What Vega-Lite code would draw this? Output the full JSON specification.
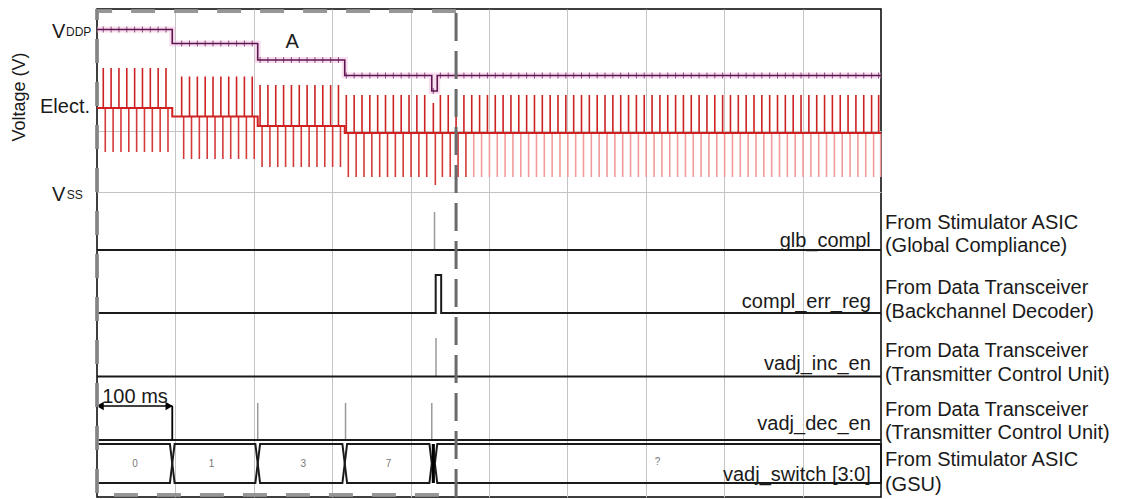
{
  "$schema": "https://vega.github.io/schema/vega-lite/v6.json",
  "width": 784,
  "height": 488,
  "autosize": {"type": "none"},
  "padding": {"left": 97, "top": 9, "right": 244, "bottom": 2},
  "background": "white",
  "config": {
    "view": {"stroke": "black", "strokeWidth": 1.5},
    "text": {"font": "Liberation Sans", "color": "#1a1a1a"}
  },
  "datasets": {
    "pulses": [
      {"t": 8, "c": 389, "hi": 429, "lo": 345, "vd": 467.5},
      {"t": 18, "c": 389, "hi": 429, "lo": 345, "vd": 467.5},
      {"t": 28, "c": 389, "hi": 429, "lo": 345, "vd": 467.5},
      {"t": 38, "c": 389, "hi": 429, "lo": 345, "vd": 467.5},
      {"t": 48, "c": 389, "hi": 429, "lo": 345, "vd": 467.5},
      {"t": 58, "c": 389, "hi": 429, "lo": 345, "vd": 467.5},
      {"t": 68, "c": 389, "hi": 429, "lo": 345, "vd": 467.5},
      {"t": 78, "c": 389, "hi": 429, "lo": 345, "vd": 467.5},
      {"t": 88, "c": 389, "hi": 429, "lo": 345, "vd": 467.5},
      {"t": 108, "c": 380.5, "hi": 420.5, "lo": 338, "vd": 453.5},
      {"t": 118, "c": 380.5, "hi": 420.5, "lo": 338, "vd": 453.5},
      {"t": 128, "c": 380.5, "hi": 420.5, "lo": 338, "vd": 453.5},
      {"t": 138, "c": 380.5, "hi": 420.5, "lo": 338, "vd": 453.5},
      {"t": 148, "c": 380.5, "hi": 420.5, "lo": 338, "vd": 453.5},
      {"t": 158, "c": 380.5, "hi": 420.5, "lo": 338, "vd": 453.5},
      {"t": 168, "c": 380.5, "hi": 420.5, "lo": 338, "vd": 453.5},
      {"t": 178, "c": 380.5, "hi": 420.5, "lo": 338, "vd": 453.5},
      {"t": 188, "c": 380.5, "hi": 420.5, "lo": 338, "vd": 453.5},
      {"t": 198, "c": 380.5, "hi": 420.5, "lo": 338, "vd": 453.5},
      {"t": 208, "c": 371, "hi": 412, "lo": 330, "vd": 437},
      {"t": 218, "c": 371, "hi": 412, "lo": 330, "vd": 437},
      {"t": 228, "c": 371, "hi": 412, "lo": 330, "vd": 437},
      {"t": 238, "c": 371, "hi": 412, "lo": 330, "vd": 437},
      {"t": 248, "c": 371, "hi": 412, "lo": 330, "vd": 437},
      {"t": 258, "c": 371, "hi": 412, "lo": 330, "vd": 437},
      {"t": 268, "c": 371, "hi": 412, "lo": 330, "vd": 437},
      {"t": 278, "c": 371, "hi": 412, "lo": 330, "vd": 437},
      {"t": 288, "c": 371, "hi": 412, "lo": 330, "vd": 437},
      {"t": 298, "c": 371, "hi": 412, "lo": 330, "vd": 437},
      {"t": 308, "c": 371, "hi": 412, "lo": 330, "vd": 437},
      {"t": 318, "c": 364, "hi": 402, "lo": 320, "vd": 421.5},
      {"t": 328, "c": 364, "hi": 402, "lo": 320, "vd": 421.5},
      {"t": 338, "c": 364, "hi": 402, "lo": 320, "vd": 421.5},
      {"t": 348, "c": 364, "hi": 402, "lo": 320, "vd": 421.5},
      {"t": 358, "c": 364, "hi": 402, "lo": 320, "vd": 421.5},
      {"t": 368, "c": 364, "hi": 402, "lo": 320, "vd": 421.5},
      {"t": 378, "c": 364, "hi": 402, "lo": 320, "vd": 421.5},
      {"t": 388, "c": 364, "hi": 402, "lo": 320, "vd": 421.5},
      {"t": 398, "c": 364, "hi": 402, "lo": 320, "vd": 421.5},
      {"t": 408, "c": 364, "hi": 402, "lo": 320, "vd": 421.5},
      {"t": 418, "c": 364, "hi": 402, "lo": 320, "vd": 421.5},
      {"t": 429, "c": 364, "hi": 394, "lo": 312, "vd": 406},
      {"t": 438, "c": 364, "hi": 402, "lo": 320, "vd": 421.5},
      {"t": 448, "c": 364, "hi": 402, "lo": 320, "vd": 421.5},
      {"t": 458, "c": 364, "hi": 402, "lo": 320, "vd": 421.5},
      {"t": 468, "c": 364, "hi": 402, "lo": 320, "vd": 421.5},
      {"t": 478, "c": 364, "hi": 402, "lo": 320, "vd": 421.5},
      {"t": 488, "c": 364, "hi": 402, "lo": 320, "vd": 421.5},
      {"t": 498, "c": 364, "hi": 402, "lo": 320, "vd": 421.5},
      {"t": 508, "c": 364, "hi": 402, "lo": 320, "vd": 421.5},
      {"t": 518, "c": 364, "hi": 402, "lo": 320, "vd": 421.5},
      {"t": 528, "c": 364, "hi": 402, "lo": 320, "vd": 421.5},
      {"t": 538, "c": 364, "hi": 402, "lo": 320, "vd": 421.5},
      {"t": 548, "c": 364, "hi": 402, "lo": 320, "vd": 421.5},
      {"t": 558, "c": 364, "hi": 402, "lo": 320, "vd": 421.5},
      {"t": 568, "c": 364, "hi": 402, "lo": 320, "vd": 421.5},
      {"t": 578, "c": 364, "hi": 402, "lo": 320, "vd": 421.5},
      {"t": 588, "c": 364, "hi": 402, "lo": 320, "vd": 421.5},
      {"t": 598, "c": 364, "hi": 402, "lo": 320, "vd": 421.5},
      {"t": 608, "c": 364, "hi": 402, "lo": 320, "vd": 421.5},
      {"t": 618, "c": 364, "hi": 402, "lo": 320, "vd": 421.5},
      {"t": 628, "c": 364, "hi": 402, "lo": 320, "vd": 421.5},
      {"t": 638, "c": 364, "hi": 402, "lo": 320, "vd": 421.5},
      {"t": 648, "c": 364, "hi": 402, "lo": 320, "vd": 421.5},
      {"t": 658, "c": 364, "hi": 402, "lo": 320, "vd": 421.5},
      {"t": 668, "c": 364, "hi": 402, "lo": 320, "vd": 421.5},
      {"t": 678, "c": 364, "hi": 402, "lo": 320, "vd": 421.5},
      {"t": 688, "c": 364, "hi": 402, "lo": 320, "vd": 421.5},
      {"t": 698, "c": 364, "hi": 402, "lo": 320, "vd": 421.5},
      {"t": 708, "c": 364, "hi": 402, "lo": 320, "vd": 421.5},
      {"t": 718, "c": 364, "hi": 402, "lo": 320, "vd": 421.5},
      {"t": 728, "c": 364, "hi": 402, "lo": 320, "vd": 421.5},
      {"t": 738, "c": 364, "hi": 402, "lo": 320, "vd": 421.5},
      {"t": 748, "c": 364, "hi": 402, "lo": 320, "vd": 421.5},
      {"t": 758, "c": 364, "hi": 402, "lo": 320, "vd": 421.5},
      {"t": 768, "c": 364, "hi": 402, "lo": 320, "vd": 421.5},
      {"t": 778, "c": 364, "hi": 402, "lo": 320, "vd": 421.5},
      {"t": 788, "c": 364, "hi": 402, "lo": 320, "vd": 421.5},
      {"t": 798, "c": 364, "hi": 402, "lo": 320, "vd": 421.5},
      {"t": 808, "c": 364, "hi": 402, "lo": 320, "vd": 421.5},
      {"t": 818, "c": 364, "hi": 402, "lo": 320, "vd": 421.5},
      {"t": 828, "c": 364, "hi": 402, "lo": 320, "vd": 421.5},
      {"t": 838, "c": 364, "hi": 402, "lo": 320, "vd": 421.5},
      {"t": 848, "c": 364, "hi": 402, "lo": 320, "vd": 421.5},
      {"t": 858, "c": 364, "hi": 402, "lo": 320, "vd": 421.5},
      {"t": 868, "c": 364, "hi": 402, "lo": 320, "vd": 421.5},
      {"t": 878, "c": 364, "hi": 402, "lo": 320, "vd": 421.5},
      {"t": 888, "c": 364, "hi": 402, "lo": 320, "vd": 421.5},
      {"t": 898, "c": 364, "hi": 402, "lo": 320, "vd": 421.5},
      {"t": 908, "c": 364, "hi": 402, "lo": 320, "vd": 421.5},
      {"t": 918, "c": 364, "hi": 402, "lo": 320, "vd": 421.5},
      {"t": 928, "c": 364, "hi": 402, "lo": 320, "vd": 421.5},
      {"t": 938, "c": 364, "hi": 402, "lo": 320, "vd": 421.5},
      {"t": 948, "c": 364, "hi": 402, "lo": 320, "vd": 421.5},
      {"t": 958, "c": 364, "hi": 402, "lo": 320, "vd": 421.5},
      {"t": 968, "c": 364, "hi": 402, "lo": 320, "vd": 421.5},
      {"t": 978, "c": 364, "hi": 402, "lo": 320, "vd": 421.5},
      {"t": 988, "c": 364, "hi": 402, "lo": 320, "vd": 421.5},
      {"t": 997, "c": 364, "hi": 402, "lo": 320, "vd": 421.5}
    ],
    "traces": [
      {"sig": "vddp", "t": 0, "v": 467.5, "o": 1},
      {"sig": "vddp", "t": 96, "v": 467.5, "o": 2},
      {"sig": "vddp", "t": 96, "v": 453.5, "o": 3},
      {"sig": "vddp", "t": 205, "v": 453.5, "o": 4},
      {"sig": "vddp", "t": 205, "v": 437, "o": 5},
      {"sig": "vddp", "t": 316, "v": 437, "o": 6},
      {"sig": "vddp", "t": 316, "v": 421.5, "o": 7},
      {"sig": "vddp", "t": 427, "v": 421.5, "o": 8},
      {"sig": "vddp", "t": 427, "v": 406, "o": 9},
      {"sig": "vddp", "t": 434, "v": 406, "o": 10},
      {"sig": "vddp", "t": 434, "v": 421.5, "o": 11},
      {"sig": "vddp", "t": 1000, "v": 421.5, "o": 12},
      {"sig": "elect", "t": 0, "v": 389, "o": 1},
      {"sig": "elect", "t": 96, "v": 389, "o": 2},
      {"sig": "elect", "t": 96, "v": 380.5, "o": 3},
      {"sig": "elect", "t": 205, "v": 380.5, "o": 4},
      {"sig": "elect", "t": 205, "v": 371, "o": 5},
      {"sig": "elect", "t": 316, "v": 371, "o": 6},
      {"sig": "elect", "t": 316, "v": 364, "o": 7},
      {"sig": "elect", "t": 1000, "v": 364, "o": 8},
      {"sig": "glb", "t": 0, "v": 247, "o": 1},
      {"sig": "glb", "t": 1000, "v": 247, "o": 2},
      {"sig": "err", "t": 0, "v": 184, "o": 1},
      {"sig": "err", "t": 432, "v": 184, "o": 2},
      {"sig": "err", "t": 432, "v": 222, "o": 3},
      {"sig": "err", "t": 439, "v": 222, "o": 4},
      {"sig": "err", "t": 439, "v": 184, "o": 5},
      {"sig": "err", "t": 1000, "v": 184, "o": 6},
      {"sig": "inc", "t": 0, "v": 120.5, "o": 1},
      {"sig": "inc", "t": 1000, "v": 120.5, "o": 2},
      {"sig": "dec", "t": 0, "v": 57, "o": 1},
      {"sig": "dec", "t": 1000, "v": 57, "o": 2},
      {"sig": "bus0", "t": 0, "v": 53, "o": 1},
      {"sig": "bus0", "t": 93, "v": 53, "o": 2},
      {"sig": "bus0", "t": 96, "v": 33.5, "o": 3},
      {"sig": "bus0", "t": 93, "v": 14, "o": 4},
      {"sig": "bus0", "t": 0, "v": 14, "o": 5},
      {"sig": "bus1", "t": 96, "v": 33.5, "o": 1},
      {"sig": "bus1", "t": 99, "v": 53, "o": 2},
      {"sig": "bus1", "t": 202, "v": 53, "o": 3},
      {"sig": "bus1", "t": 205, "v": 33.5, "o": 4},
      {"sig": "bus1", "t": 202, "v": 14, "o": 5},
      {"sig": "bus1", "t": 99, "v": 14, "o": 6},
      {"sig": "bus1", "t": 96, "v": 33.5, "o": 7},
      {"sig": "bus2", "t": 205, "v": 33.5, "o": 1},
      {"sig": "bus2", "t": 208, "v": 53, "o": 2},
      {"sig": "bus2", "t": 313, "v": 53, "o": 3},
      {"sig": "bus2", "t": 316, "v": 33.5, "o": 4},
      {"sig": "bus2", "t": 313, "v": 14, "o": 5},
      {"sig": "bus2", "t": 208, "v": 14, "o": 6},
      {"sig": "bus2", "t": 205, "v": 33.5, "o": 7},
      {"sig": "bus3", "t": 316, "v": 33.5, "o": 1},
      {"sig": "bus3", "t": 319, "v": 53, "o": 2},
      {"sig": "bus3", "t": 424, "v": 53, "o": 3},
      {"sig": "bus3", "t": 427, "v": 33.5, "o": 4},
      {"sig": "bus3", "t": 424, "v": 14, "o": 5},
      {"sig": "bus3", "t": 319, "v": 14, "o": 6},
      {"sig": "bus3", "t": 316, "v": 33.5, "o": 7},
      {"sig": "bus4", "t": 431, "v": 33.5, "o": 1},
      {"sig": "bus4", "t": 434, "v": 53, "o": 2},
      {"sig": "bus4", "t": 1000, "v": 53, "o": 3},
      {"sig": "bus4", "t": 1000, "v": 14, "o": 4},
      {"sig": "bus4", "t": 434, "v": 14, "o": 5},
      {"sig": "bus4", "t": 431, "v": 33.5, "o": 6},
      {"sig": "box", "t": 458, "v": 486, "o": 1},
      {"sig": "box", "t": 0, "v": 486, "o": 2},
      {"sig": "box", "t": 0, "v": 2, "o": 3},
      {"sig": "box", "t": 458, "v": 2, "o": 4}
    ],
    "spikes": [
      {"sig": "glb", "t": 430.5, "v0": 247, "v1": 285},
      {"sig": "inc", "t": 432.4, "v0": 120.5, "v1": 159},
      {"sig": "dec", "t": 205, "v0": 57, "v1": 94},
      {"sig": "dec", "t": 317, "v0": 57, "v1": 94},
      {"sig": "dec", "t": 427, "v0": 57, "v1": 94},
      {"sig": "bracket", "t": 96, "v0": 57, "v1": 91},
      {"sig": "marker", "t": 458, "v0": 0, "v1": 488}
    ],
    "labels": [
      {"grp": "right", "txt": "From Stimulator ASIC", "t": 1005, "v": 274},
      {"grp": "right", "txt": "(Global Compliance)", "t": 1005, "v": 251},
      {"grp": "right", "txt": "From Data Transceiver", "t": 1005, "v": 209},
      {"grp": "right", "txt": "(Backchannel Decoder)", "t": 1005, "v": 185},
      {"grp": "right", "txt": "From Data Transceiver", "t": 1005, "v": 146},
      {"grp": "right", "txt": "(Transmitter Control Unit)", "t": 1005, "v": 122},
      {"grp": "right", "txt": "From Data Transceiver", "t": 1005, "v": 87},
      {"grp": "right", "txt": "(Transmitter Control Unit)", "t": 1005, "v": 64},
      {"grp": "right", "txt": "From Stimulator ASIC", "t": 1005, "v": 37},
      {"grp": "right", "txt": "(GSU)", "t": 1005, "v": 12},
      {"grp": "name", "txt": "glb_compl", "t": 987, "v": 256},
      {"grp": "name", "txt": "compl_err_reg", "t": 987, "v": 195},
      {"grp": "name", "txt": "vadj_inc_en", "t": 987, "v": 133},
      {"grp": "name", "txt": "vadj_dec_en", "t": 987, "v": 73},
      {"grp": "name", "txt": "vadj_switch [3:0]", "t": 987, "v": 22},
      {"grp": "left", "txt": "V", "t": -40.5, "v": 465},
      {"grp": "left", "txt": "Elect.", "t": -8.9, "v": 390},
      {"grp": "left", "txt": "V", "t": -40.5, "v": 302},
      {"grp": "sub", "txt": "DDP", "t": -39.5, "v": 465},
      {"grp": "sub", "txt": "SS", "t": -38.5, "v": 302},
      {"grp": "bus", "txt": "0", "t": 48.5, "v": 33.5},
      {"grp": "bus", "txt": "1", "t": 146, "v": 33.5},
      {"grp": "bus", "txt": "3", "t": 263, "v": 33.5},
      {"grp": "bus", "txt": "7", "t": 372, "v": 33.5},
      {"grp": "bus", "txt": "?", "t": 715, "v": 35},
      {"grp": "anno", "txt": "100 ms", "t": 48.5, "v": 100},
      {"grp": "anno", "txt": "A", "t": 249, "v": 455},
      {"grp": "title", "txt": "Voltage (V)", "t": -98, "v": 400}
    ],
    "arrow": [
      {"t0": 0, "t1": 96, "v": 91}
    ],
    "heads": [
      {"end": "start", "t": 4, "v": 91},
      {"end": "end", "t": 92, "v": 91}
    ]
  },
  "layer": [
    {
      "data": {"name": "traces"},
      "transform": [{"filter": "datum.sig === 'vddp'"}],
      "mark": {"type": "line", "stroke": "#f2b6dc", "strokeWidth": 6, "opacity": 0.45},
      "encoding": {
        "x": {"field": "t", "type": "quantitative", "scale": {"domain": [0, 1000], "nice": false, "zero": false},
          "axis": {"values": [100, 200, 300, 400, 500, 600, 700, 800, 900], "grid": true, "gridColor": "#c4c4c4", "gridWidth": 1, "labels": false, "ticks": false, "domain": false, "title": null}},
        "y": {"field": "v", "type": "quantitative", "scale": {"domain": [0, 488], "nice": false, "zero": false},
          "axis": {"values": [305, 366], "grid": true, "gridColor": "#c4c4c4", "gridWidth": 1, "labels": false, "ticks": false, "domain": false, "title": null}},
        "order": {"field": "o", "type": "quantitative"}
      }
    },
    {
      "data": {"name": "pulses"},
      "mark": {"type": "rule", "strokeWidth": 1.6, "xOffset": 2},
      "encoding": {
        "x": {"field": "t", "type": "quantitative"},
        "y": {"field": "c", "type": "quantitative"},
        "y2": {"field": "lo"},
        "color": {"condition": {"test": "datum.t < 470", "value": "#d43a3a"}, "value": "#f29a9a"}
      }
    },
    {
      "data": {"name": "pulses"},
      "mark": {"type": "rule", "strokeWidth": 1.6, "color": "#cc2222"},
      "encoding": {
        "x": {"field": "t", "type": "quantitative"},
        "y": {"field": "c", "type": "quantitative"},
        "y2": {"field": "hi"}
      }
    },
    {
      "data": {"name": "traces"},
      "transform": [{"filter": "datum.sig === 'elect'"}],
      "mark": {"type": "line", "stroke": "#d02020", "strokeWidth": 2},
      "encoding": {
        "x": {"field": "t", "type": "quantitative"},
        "y": {"field": "v", "type": "quantitative"},
        "order": {"field": "o", "type": "quantitative"}
      }
    },
    {
      "data": {"name": "traces"},
      "transform": [{"filter": "datum.sig === 'vddp'"}],
      "mark": {"type": "line", "stroke": "#5e1450", "strokeWidth": 1.6},
      "encoding": {
        "x": {"field": "t", "type": "quantitative"},
        "y": {"field": "v", "type": "quantitative"},
        "order": {"field": "o", "type": "quantitative"}
      }
    },
    {
      "data": {"name": "pulses"},
      "mark": {"type": "tick", "orient": "vertical", "size": 6, "thickness": 1, "color": "#5e1450"},
      "encoding": {
        "x": {"field": "t", "type": "quantitative"},
        "y": {"field": "vd", "type": "quantitative"}
      }
    },
    {
      "data": {"name": "spikes"},
      "transform": [{"filter": "datum.sig === 'glb' || datum.sig === 'inc' || datum.sig === 'dec'"}],
      "mark": {"type": "rule", "strokeWidth": 1.5, "color": "#9a9a9a"},
      "encoding": {
        "x": {"field": "t", "type": "quantitative"},
        "y": {"field": "v0", "type": "quantitative"},
        "y2": {"field": "v1"}
      }
    },
    {
      "data": {"name": "traces"},
      "transform": [{"filter": "datum.sig !== 'vddp' && datum.sig !== 'elect' && datum.sig !== 'box'"}],
      "mark": {"type": "line", "stroke": "#1a1a1a", "strokeWidth": 2},
      "encoding": {
        "x": {"field": "t", "type": "quantitative"},
        "y": {"field": "v", "type": "quantitative"},
        "detail": {"field": "sig"},
        "order": {"field": "o", "type": "quantitative"}
      }
    },
    {
      "data": {"values": [{"t0": 427, "t1": 431, "v0": 14, "v1": 53}]},
      "mark": {"type": "rect", "color": "black"},
      "encoding": {
        "x": {"field": "t0", "type": "quantitative"},
        "x2": {"field": "t1"},
        "y": {"field": "v0", "type": "quantitative"},
        "y2": {"field": "v1"}
      }
    },
    {
      "data": {"name": "spikes"},
      "transform": [{"filter": "datum.sig === 'bracket'"}],
      "mark": {"type": "rule", "strokeWidth": 1.8, "color": "black"},
      "encoding": {
        "x": {"field": "t", "type": "quantitative"},
        "y": {"field": "v0", "type": "quantitative"},
        "y2": {"field": "v1"}
      }
    },
    {
      "data": {"name": "arrow"},
      "mark": {"type": "rule", "strokeWidth": 1.5, "color": "black"},
      "encoding": {
        "x": {"field": "t0", "type": "quantitative"},
        "x2": {"field": "t1"},
        "y": {"field": "v", "type": "quantitative"}
      }
    },
    {
      "data": {"name": "heads"},
      "mark": {"type": "point", "filled": true, "color": "black", "size": 70, "opacity": 1},
      "encoding": {
        "x": {"field": "t", "type": "quantitative"},
        "y": {"field": "v", "type": "quantitative"},
        "shape": {"field": "end", "type": "nominal", "scale": {"domain": ["start", "end"], "range": ["triangle-left", "triangle-right"]}, "legend": null}
      }
    },
    {
      "data": {"name": "traces"},
      "transform": [{"filter": "datum.sig === 'box'"}],
      "mark": {"type": "line", "stroke": "#8c8c8c", "strokeWidth": 4, "strokeDash": [24, 19], "opacity": 0.9},
      "encoding": {
        "x": {"field": "t", "type": "quantitative"},
        "y": {"field": "v", "type": "quantitative"},
        "order": {"field": "o", "type": "quantitative"}
      }
    },
    {
      "data": {"name": "spikes"},
      "transform": [{"filter": "datum.sig === 'marker'"}],
      "mark": {"type": "rule", "strokeWidth": 3, "color": "#6a6a6a", "strokeDash": [28, 10]},
      "encoding": {
        "x": {"field": "t", "type": "quantitative"},
        "y": {"field": "v0", "type": "quantitative"},
        "y2": {"field": "v1"}
      }
    },
    {
      "data": {"name": "labels"},
      "transform": [{"filter": "datum.grp === 'right'"}],
      "mark": {"type": "text", "align": "left", "fontSize": 20},
      "encoding": {
        "x": {"field": "t", "type": "quantitative"},
        "y": {"field": "v", "type": "quantitative"},
        "text": {"field": "txt"}
      }
    },
    {
      "data": {"name": "labels"},
      "transform": [{"filter": "datum.grp === 'name' || datum.grp === 'left'"}],
      "mark": {"type": "text", "align": "right", "fontSize": 20},
      "encoding": {
        "x": {"field": "t", "type": "quantitative"},
        "y": {"field": "v", "type": "quantitative"},
        "text": {"field": "txt"}
      }
    },
    {
      "data": {"name": "labels"},
      "transform": [{"filter": "datum.grp === 'sub'"}],
      "mark": {"type": "text", "align": "left", "fontSize": 12},
      "encoding": {
        "x": {"field": "t", "type": "quantitative"},
        "y": {"field": "v", "type": "quantitative"},
        "text": {"field": "txt"}
      }
    },
    {
      "data": {"name": "labels"},
      "transform": [{"filter": "datum.grp === 'bus'"}],
      "mark": {"type": "text", "align": "center", "baseline": "middle", "fontSize": 10, "color": "#777777"},
      "encoding": {
        "x": {"field": "t", "type": "quantitative"},
        "y": {"field": "v", "type": "quantitative"},
        "text": {"field": "txt"}
      }
    },
    {
      "data": {"name": "labels"},
      "transform": [{"filter": "datum.grp === 'anno'"}],
      "mark": {"type": "text", "align": "center", "fontSize": 20},
      "encoding": {
        "x": {"field": "t", "type": "quantitative"},
        "y": {"field": "v", "type": "quantitative"},
        "text": {"field": "txt"}
      }
    },
    {
      "data": {"name": "labels"},
      "transform": [{"filter": "datum.grp === 'title'"}],
      "mark": {"type": "text", "align": "center", "baseline": "middle", "angle": 270, "fontSize": 18},
      "encoding": {
        "x": {"field": "t", "type": "quantitative"},
        "y": {"field": "v", "type": "quantitative"},
        "text": {"field": "txt"}
      }
    }
  ]
}
